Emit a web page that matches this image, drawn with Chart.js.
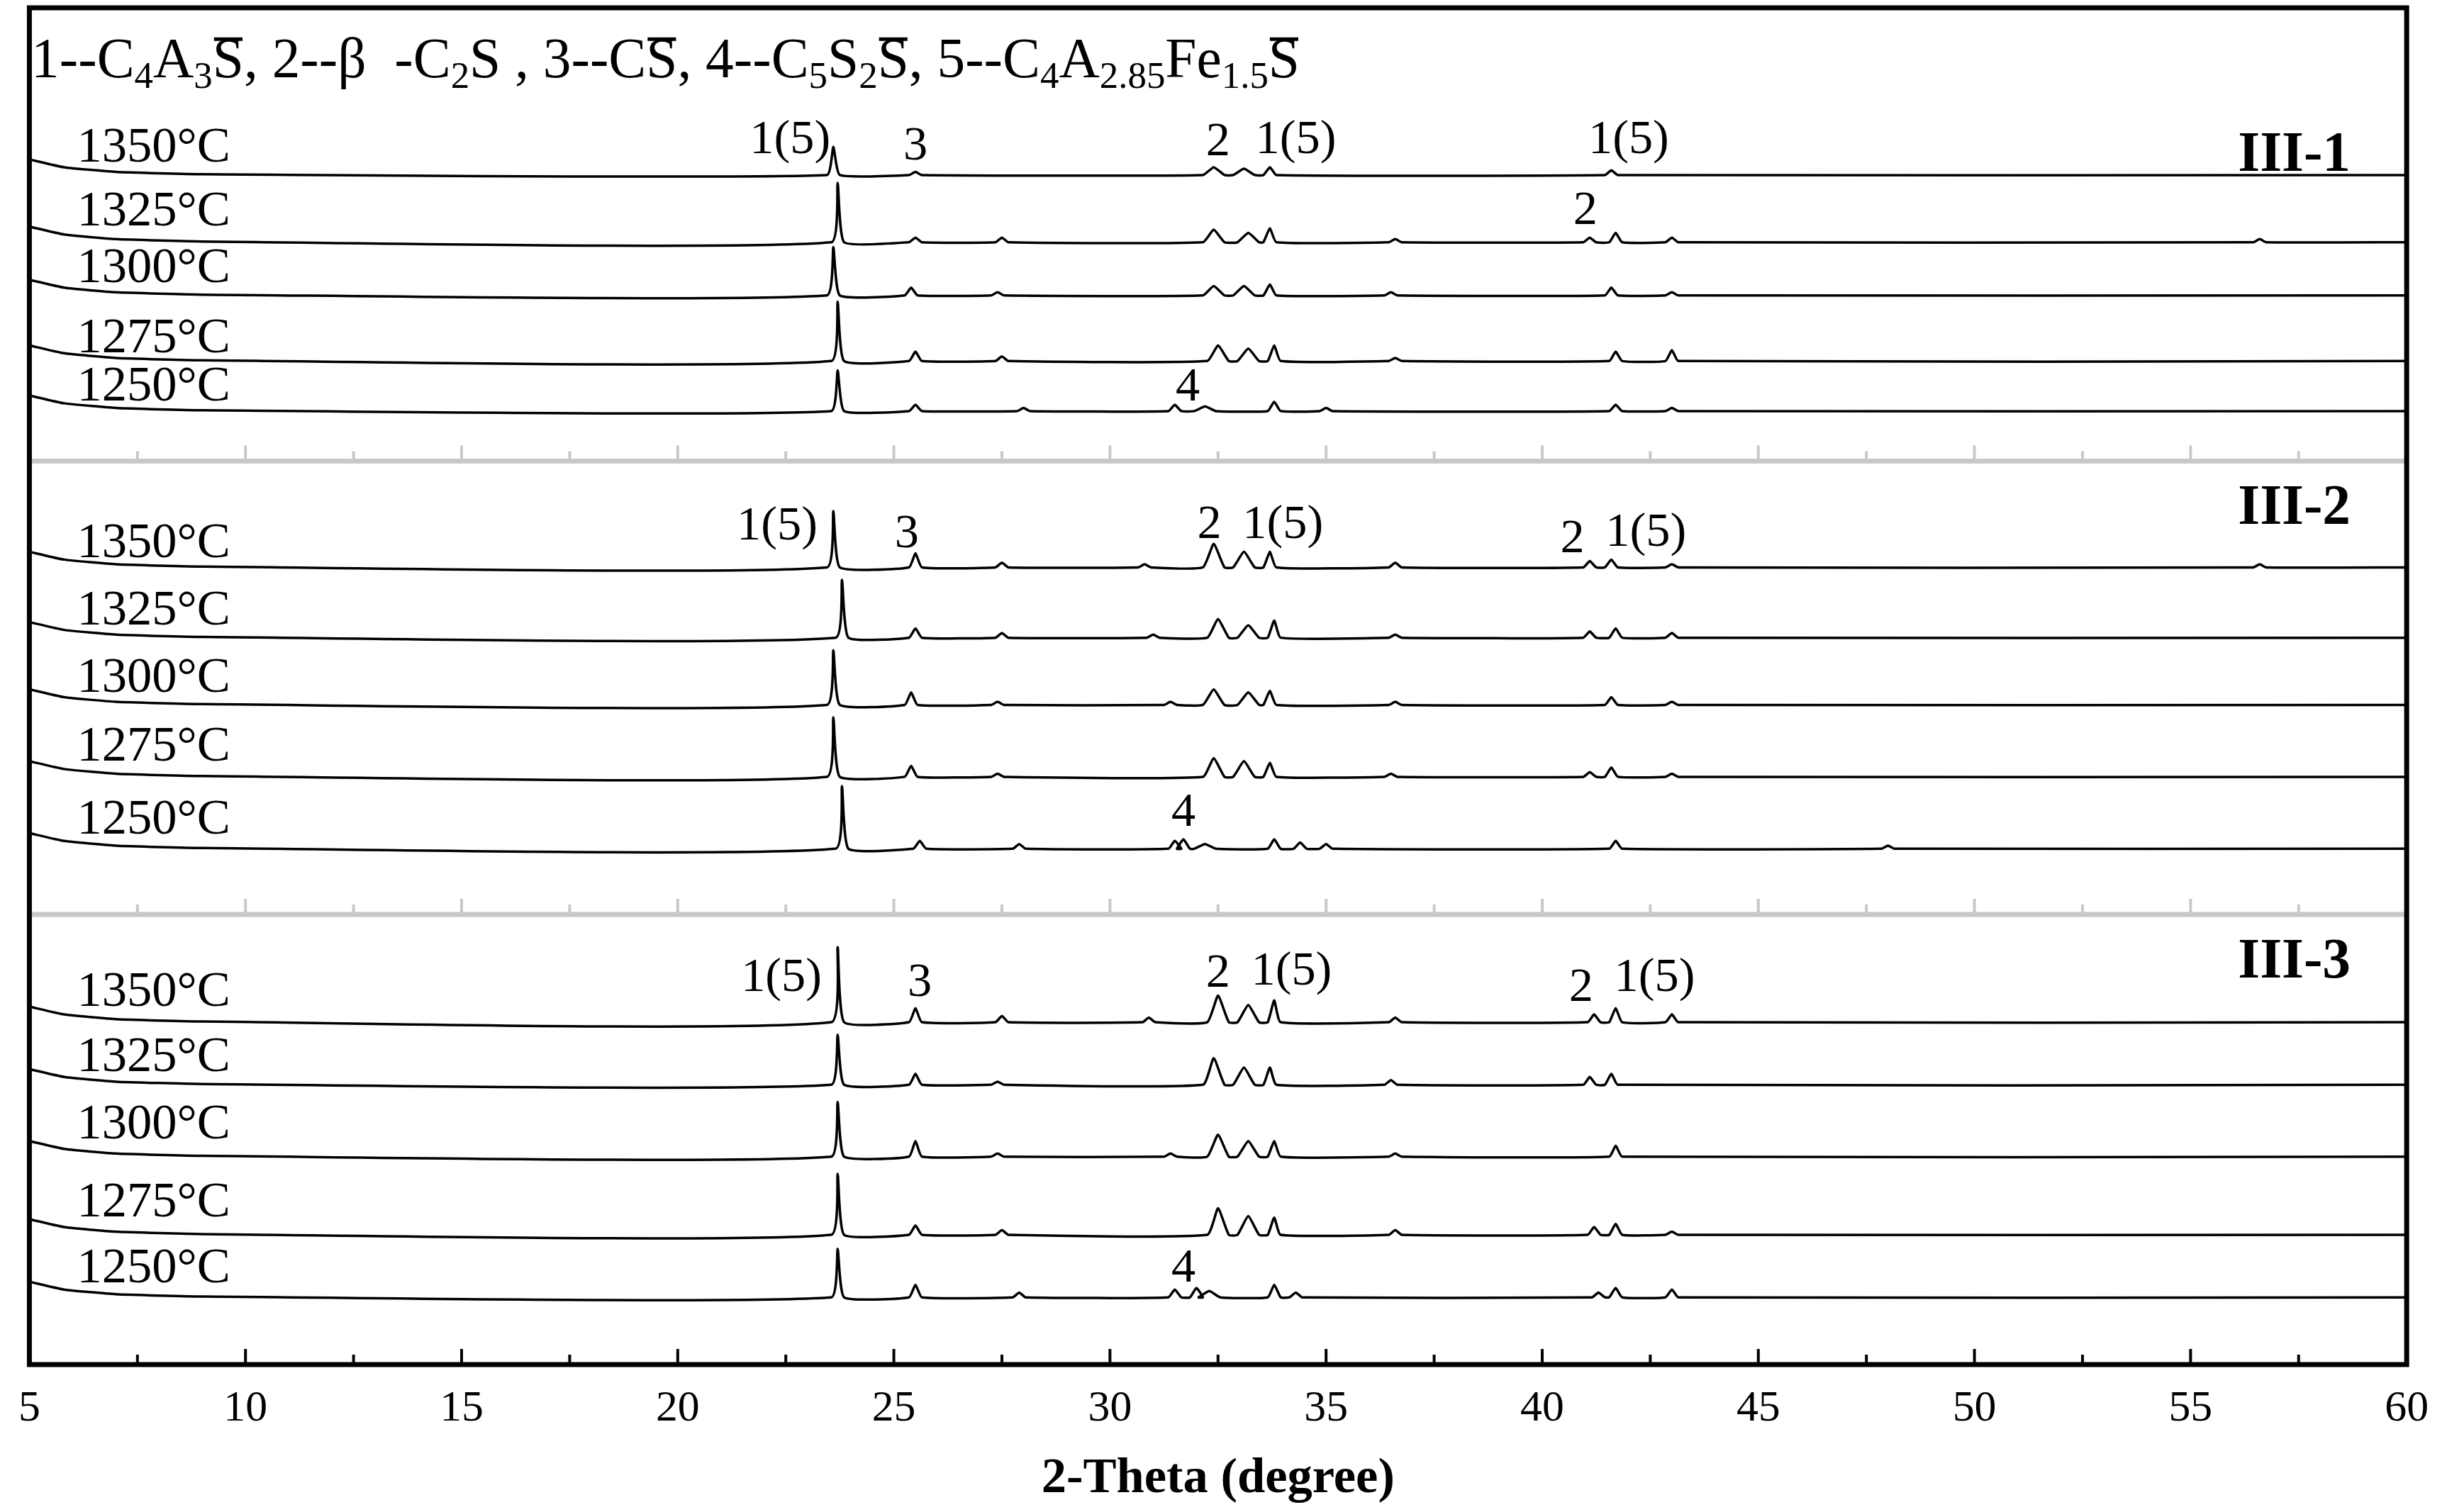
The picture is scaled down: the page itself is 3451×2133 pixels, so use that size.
<!DOCTYPE html>
<html lang="en">
<head>
<meta charset="UTF-8">
<title>XRD</title>
<script src="https://cdn.jsdelivr.net/npm/chart.js"></script>
<style>
  body { margin: 0; background: #fff; }
  canvas { display: block; }
</style>
</head>
<body>
<canvas id="xrd" width="3451" height="2133"></canvas>
<script>
// y unit = display px from bottom of plot (plot height 868)
const temps = ['1350°C', '1325°C', '1300°C', '1275°C', '1250°C'];
const panels = ['III-1', 'III-2', 'III-3'];
const xTicks = [5, 10, 15, 20, 25, 30, 35, 40, 45, 50, 55, 60];
// baselines per panel, top to bottom
const base1 = [761, 718, 684, 642, 610];
const base2 = [510, 465, 422, 376, 330];
const base3 = [219, 179, 133, 83, 43];
// peaks: [2θ, height]
const peaks1 = [
  [[23.6, 18], [25.5, 2], [32.4, 5], [33.1, 4], [33.7, 5], [41.6, 3]],
  [[23.7, 38], [25.5, 3], [27.5, 3], [32.4, 8], [33.2, 6], [33.7, 9], [36.6, 2], [41.1, 3], [41.7, 6], [43.0, 3], [56.6, 2]],
  [[23.6, 31], [25.4, 5], [27.4, 2], [32.4, 6], [33.1, 6], [33.7, 7], [36.5, 2], [41.6, 5], [43.0, 2]],
  [[23.7, 38], [25.5, 6], [27.5, 3], [32.5, 10], [33.2, 8], [33.8, 10], [36.6, 2], [41.7, 6], [43.0, 7]],
  [[23.7, 26], [25.5, 4], [28.0, 2], [31.5, 4], [32.2, 3], [33.8, 6], [35.0, 2], [41.7, 4], [43.0, 2]]
];
const peaks2 = [
  [[23.6, 36], [25.5, 9], [27.5, 3], [30.8, 2], [32.4, 15], [33.1, 10], [33.7, 10], [36.6, 3], [41.1, 4], [41.6, 5], [43.0, 2], [56.6, 2]],
  [[23.8, 37], [25.5, 6], [27.5, 3], [31.0, 2], [32.5, 12], [33.2, 8], [33.8, 11], [36.6, 2], [41.1, 4], [41.7, 6], [43.0, 3]],
  [[23.6, 35], [25.4, 8], [27.4, 2], [31.4, 2], [32.4, 10], [33.2, 8], [33.7, 9], [36.6, 2], [41.6, 5], [43.0, 2]],
  [[23.6, 38], [25.4, 7], [27.4, 2], [32.4, 12], [33.1, 10], [33.7, 9], [36.5, 2], [41.1, 3], [41.6, 6], [43.0, 2]],
  [[23.8, 40], [25.6, 5], [27.9, 3], [31.5, 5], [31.7, 6], [32.2, 3], [33.8, 6], [34.4, 4], [35.0, 3], [41.7, 5], [48.0, 2]]
];
const peaks3 = [
  [[23.7, 48], [25.5, 9], [27.5, 4], [30.9, 3], [32.5, 17], [33.2, 11], [33.8, 14], [36.6, 3], [41.2, 5], [41.7, 9], [43.0, 5]],
  [[23.7, 32], [25.5, 7], [27.4, 2], [32.4, 17], [33.1, 11], [33.7, 11], [36.5, 3], [41.1, 5], [41.6, 7]],
  [[23.7, 35], [25.5, 10], [27.4, 2], [31.4, 2], [32.5, 14], [33.2, 10], [33.8, 10], [36.6, 2], [41.7, 7]],
  [[23.7, 39], [25.5, 6], [27.5, 3], [32.5, 17], [33.2, 12], [33.8, 11], [36.6, 3], [41.2, 5], [41.7, 7], [43.0, 2]],
  [[23.7, 31], [25.5, 8], [27.9, 3], [31.5, 5], [32.0, 6], [32.3, 4], [33.8, 8], [34.3, 3], [41.3, 3], [41.7, 6], [43.0, 5]]
];
// peak labels: [text, 2θ, y]
const notes = [
  ['1(5)', 22.6, 783], ['3', 25.5, 779], ['2', 32.5, 782], ['1(5)', 34.3, 783], ['1(5)', 42.0, 783], ['2', 41.0, 738], ['4', 31.8, 625],
  ['1(5)', 22.3, 536], ['3', 25.3, 531], ['2', 32.3, 537], ['1(5)', 34.0, 537], ['2', 40.7, 528], ['1(5)', 42.4, 532], ['4', 31.7, 353],
  ['1(5)', 22.4, 247], ['3', 25.6, 244], ['2', 32.5, 250], ['1(5)', 34.2, 251], ['2', 40.9, 241], ['1(5)', 42.6, 247], ['4', 31.7, 61]
];
const tempY = [778, 737, 701, 656, 625, 525, 482, 439, 395, 348, 238, 196, 153, 103, 61];
const panelY = [773, 547, 257];
const sepY = [578, 288];

const S = 3451 / 1565;
const serif = '"Liberation Serif", "DejaVu Serif", serif';

function trace(base, pk) {
  const pts = [{x: 5, y: base + 10}, {x: 5.8, y: base + 5}, {x: 7, y: base + 2}, {x: 9, y: base + 0.5}];
  pk.forEach(function (p) {
    const hw = p[0] > 32 && p[0] < 33.5 ? 0.25 : 0.15;
    pts.push({x: p[0] - hw, y: base}, {x: p[0], y: base + p[1]}, {x: p[0] + hw, y: base});
  });
  pts.push({x: 60, y: base});
  return pts;
}

const datasets = [];
[[base1, peaks1], [base2, peaks2], [base3, peaks3]].forEach(function (pp) {
  pp[0].forEach(function (b, i) {
    datasets.push({data: trace(b, pp[1][i]), borderColor: '#000', borderWidth: 3.5, pointRadius: 0, tension: 0.15});
  });
});

const deco = {
  id: 'deco',
  afterDraw(chart) {
    const c = chart.ctx, x = chart.scales.x, y = chart.scales.y, a = chart.chartArea;
    c.save();
    // separators with gray ticks
    c.strokeStyle = '#c8c8c8';
    sepY.forEach(function (v) {
      const py = y.getPixelForValue(v);
      c.lineWidth = 7;
      c.beginPath(); c.moveTo(a.left, py); c.lineTo(a.right, py); c.stroke();
      c.lineWidth = 4;
      for (let t = 7.5; t < 60; t += 2.5) {
        const px = x.getPixelForValue(t), len = t % 5 === 0 ? 22 : 14;
        c.beginPath(); c.moveTo(px, py); c.lineTo(px, py - len); c.stroke();
      }
    });
    // bottom ticks
    c.strokeStyle = '#000'; c.lineWidth = 4;
    for (let t = 7.5; t < 60; t += 2.5) {
      const px = x.getPixelForValue(t), len = t % 5 === 0 ? 22 : 14;
      c.beginPath(); c.moveTo(px, a.bottom); c.lineTo(px, a.bottom - len); c.stroke();
    }
    // frame
    c.lineWidth = 7;
    c.strokeRect(a.left, a.top, a.right - a.left, a.bottom - a.top);
    // labels
    c.fillStyle = '#000';
    c.textBaseline = 'middle';
    c.font = (32 * S) + 'px ' + serif;
    c.textAlign = 'left';
    tempY.forEach(function (v, i) {
      c.fillText(temps[i % 5], x.getPixelForValue(6.1), y.getPixelForValue(v));
    });
    c.textAlign = 'center';
    c.font = (31 * S) + 'px ' + serif;
    notes.forEach(function (n) {
      c.fillText(n[0], x.getPixelForValue(n[1]), y.getPixelForValue(n[2]));
    });
    c.font = 'bold ' + (36 * S) + 'px ' + serif;
    panelY.forEach(function (v, i) {
      c.fillText(panels[i], x.getPixelForValue(57.4), y.getPixelForValue(v));
    });
    // phase legend
    const segs = [['1--C', 'n'], ['4', 's'], ['A', 'n'], ['3', 's'], ['S', 'o'], [', 2--β  -C', 'n'], ['2', 's'], ['S , 3--C', 'n'], ['S', 'o'],
      [', 4--C', 'n'], ['5', 's'], ['S', 'n'], ['2', 's'], ['S', 'o'], [', 5--C', 'n'], ['4', 's'], ['A', 'n'], ['2.85', 's'], ['Fe', 'n'], ['1.5', 's'], ['S', 'o']];
    let px = 20 * S;
    const py = 40 * S;
    c.textAlign = 'left';
    segs.forEach(function (sg) {
      const big = (36 * S) + 'px ' + serif, small = (24 * S) + 'px ' + serif;
      c.font = sg[1] === 's' ? small : big;
      const w = c.measureText(sg[0]).width;
      c.fillText(sg[0], px, sg[1] === 's' ? py + 10 * S : py);
      if (sg[1] === 'o') {
        c.lineWidth = 5;
        c.beginPath(); c.moveTo(px + 2, py - 15 * S); c.lineTo(px + w - 2, py - 15 * S); c.stroke();
      }
      px += w;
    });
    c.restore();
  }
};

new Chart(document.getElementById('xrd'), {
  type: 'line',
  data: {datasets: datasets},
  options: {
    responsive: false,
    animation: false,
    layout: {padding: {left: 33, right: 44, top: 11}},
    plugins: {legend: {display: false}, tooltip: {enabled: false}},
    scales: {
      x: {
        type: 'linear', min: 5, max: 60,
        afterBuildTicks: function (s) { s.ticks = xTicks.map(function (v) { return {value: v}; }); },
        afterFit: function (s) { s.height = 208; },
        grid: {display: false, drawTicks: false},
        border: {display: false},
        ticks: {color: '#000', padding: 26, maxRotation: 0, font: {family: serif, size: 28 * S}},
        title: {display: true, text: '2-Theta (degree)', color: '#000', padding: {top: 6}, font: {family: serif, size: 32 * S, weight: 'bold'}}
      },
      y: {min: 0, max: 868, display: false}
    }
  },
  plugins: [deco]
});
</script>
</body>
</html>
